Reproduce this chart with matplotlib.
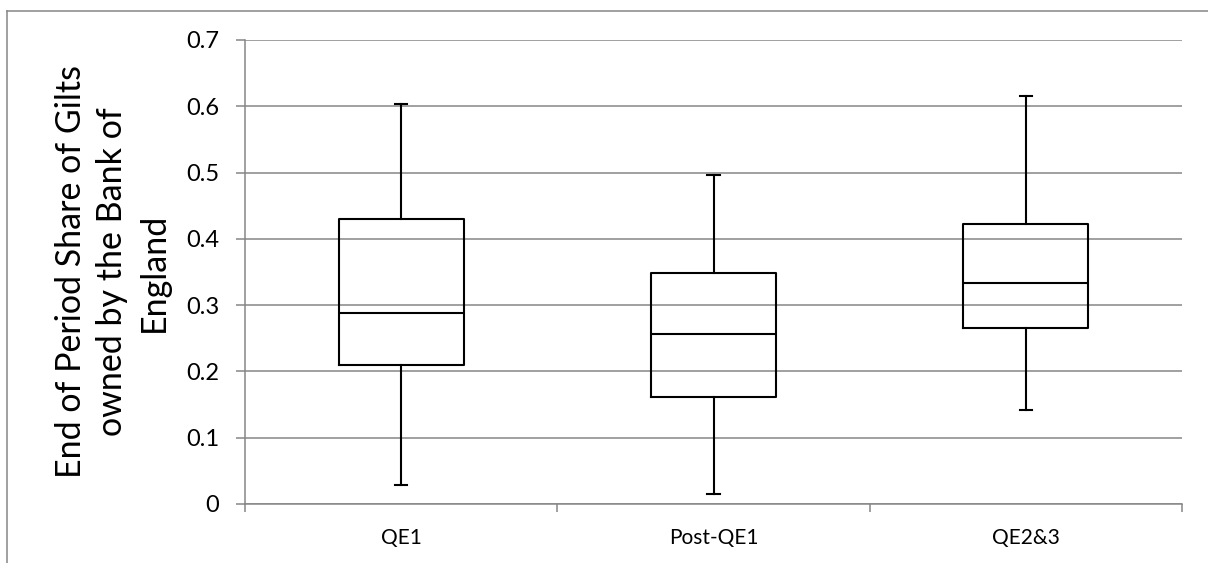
import matplotlib.pyplot as plt
from matplotlib.lines import Line2D

# Box plot summary values
periods = ["QE1", "Post-QE1", "QE2&3"]
whisker_low = [0.028, 0.015, 0.142]
q1 = [0.209, 0.161, 0.265]
median = [0.288, 0.257, 0.333]
q3 = [0.430, 0.348, 0.422]
whisker_high = [0.604, 0.497, 0.616]
y_ticks = [0, 0.1, 0.2, 0.3, 0.4, 0.5, 0.6, 0.7]
y_tick_labels = ["0", "0.1", "0.2", "0.3", "0.4", "0.5", "0.6", "0.7"]

plt.rcParams['font.family'] = ['Lato', 'DejaVu Sans']
grey = "#868686"

fig = plt.figure(figsize=(12.08, 5.63), dpi=100)
ax = fig.add_axes([245 / 1208, 1 - 504 / 563, (1182 - 245) / 1208, (504 - 40) / 563])

stats = []
for i in range(len(periods)):
    stats.append({
        "whislo": whisker_low[i], "q1": q1[i], "med": median[i],
        "q3": q3[i], "whishi": whisker_high[i], "fliers": [],
    })

line_style = dict(color="black", linewidth=1.5)
ax.bxp(stats, positions=range(len(periods)), widths=0.4, capwidths=0.04,
       showfliers=False, boxprops=line_style, medianprops=line_style,
       whiskerprops=line_style, capprops=line_style, zorder=3)

ax.set_xlim(-0.5, len(periods) - 0.5)
ax.set_ylim(0, 0.7)

# category boundaries as major ticks, labels on minor ticks
ax.set_xticks([i - 0.5 for i in range(len(periods) + 1)])
ax.set_xticklabels([])
ax.set_xticks(range(len(periods)), minor=True)
ax.set_xticklabels(periods, minor=True, fontsize=15)
ax.tick_params(axis="x", which="major", length=6, width=1.1, color=grey)
ax.tick_params(axis="x", which="minor", length=0, pad=17)

ax.set_yticks(y_ticks)
ax.set_yticklabels(y_tick_labels, fontsize=17)
ax.tick_params(axis="y", length=6.5, width=1.1, color=grey, pad=12)

ax.grid(axis="y", color=grey, linewidth=1.1, zorder=0)
ax.set_axisbelow(True)
for side in ["top", "right"]:
    ax.spines[side].set_visible(False)
for side in ["left", "bottom"]:
    ax.spines[side].set_color(grey)
    ax.spines[side].set_linewidth(1.1)

ax.set_ylabel("End of Period Share of Gilts\nowned by the Bank of\nEngland",
              fontsize=24.5, linespacing=1.36, labelpad=12)

# outer chart frame (left and top edges only visible)
fx = 7.5 / 1208
fy = 1 - 11 / 563
fig.add_artist(Line2D([fx, fx], [fy, -0.1], color=grey, linewidth=1.1,
                      transform=fig.transFigure))
fig.add_artist(Line2D([fx, 1.1], [fy, fy], color=grey, linewidth=1.1,
                      transform=fig.transFigure))

fig.savefig("out.png", dpi=100)
